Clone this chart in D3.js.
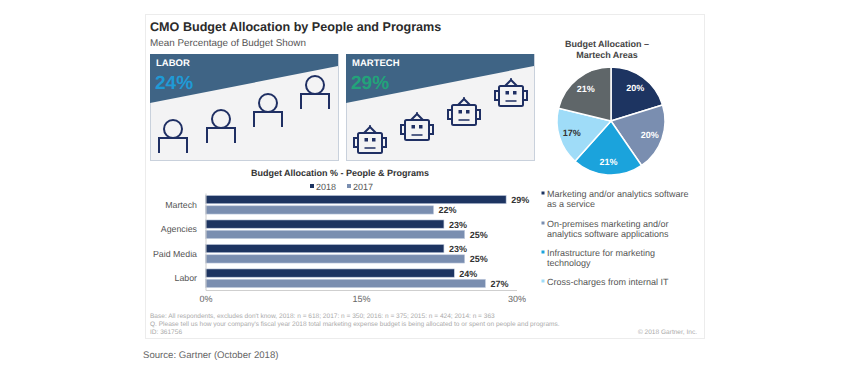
<!DOCTYPE html>
<html>
<head>
<meta charset="utf-8">
<script src="https://cdnjs.cloudflare.com/ajax/libs/d3/7.8.5/d3.min.js"></script>
<style>
html, body { margin: 0; padding: 0; background: #fff; }
svg { display: block; text-rendering: geometricPrecision; }
text { font-family: "Liberation Sans", Arial, sans-serif; }
</style>
</head>
<body>
<div id="chart-area"></div>
<script>
//////////////////////////////////////////////
// Data //////////////////////////////////////
//////////////////////////////////////////////
var categories = ["Martech", "Agencies", "Paid Media", "Labor"];
var years = ["2018", "2017"];
var values2018 = [29, 23, 23, 24];
var values2017 = [22, 25, 25, 27];
var xTicks = [0, 15, 30];

var pieValues = [20, 20, 21, 17, 21];
var pieLegend = [
    ["Marketing and/or analytics software", "as a service"],
    ["On-premises marketing and/or", "analytics software applications"],
    ["Infrastructure for marketing", "technology"],
    ["Cross-charges from internal IT"]
];

var panelNames = ["LABOR", "MARTECH"];
var panelValues = [24, 29];

var footnotes = [
    "Base: All respondents, excludes don't know, 2018: n = 618; 2017: n = 350; 2016: n = 375; 2015: n = 424; 2014: n = 363",
    "Q. Please tell us how your company's fiscal year 2018 total marketing expense budget is being allocated to or spent on people and programs.",
    "ID: 361756"
];

//////////////////////////////////////////////
// Chart Config //////////////////////////////
//////////////////////////////////////////////
var navy = "#1d3461", slate = "#7a8eb0", band = "#3f6485", iconBlue = "#1f2f63";
var pieColors = [navy, slate, "#1ba3dc", "#9fdcf8", "#5f6669"];

var svg = d3.select("#chart-area").append("svg")
    .attr("width", 850)
    .attr("height", 375);

// card
svg.append("rect")
    .attr("x", 145.5).attr("y", 14.5)
    .attr("width", 559).attr("height", 324)
    .attr("fill", "#fff")
    .attr("stroke", "#ececec");

svg.append("text").attr("x", 150).attr("y", 30.5)
    .attr("font-size", 12.6).attr("font-weight", "bold").attr("fill", "#2b2b2b")
    .text("CMO Budget Allocation by People and Programs");

svg.append("text").attr("x", 150).attr("y", 46)
    .attr("font-size", 9.9).attr("fill", "#555")
    .text("Mean Percentage of Budget Shown");

//////////////////////////////////////////////
// Panels ////////////////////////////////////
//////////////////////////////////////////////
var panelX = [150, 346], panelW = 188, panelY = 54, panelH = 106;
var panelColors = ["#1f9ad6", "#22a37a"];

panelNames.forEach(function(name, i) {
    var g = svg.append("g").attr("transform", "translate(" + panelX[i] + "," + panelY + ")");
    g.append("rect")
        .attr("x", 0.5).attr("y", 0.5)
        .attr("width", panelW).attr("height", panelH)
        .attr("fill", "#f3f3f4").attr("stroke", "#c9d1dc");
    g.append("path")
        .attr("d", "M0,0H" + panelW + "V12L0,49Z")
        .attr("fill", band);
    g.append("text").attr("x", 6).attr("y", 12)
        .attr("font-size", 9.5).attr("font-weight", "bold").attr("fill", "#fff")
        .text(name);
    g.append("text").attr("x", 5).attr("y", 35)
        .attr("font-size", 19).attr("font-weight", "bold").attr("fill", panelColors[i])
        .text(panelValues[i] + "%");
});

// people
var people = [[173, 129], [221, 119], [268, 103], [315, 85]];
var person = svg.append("g").attr("fill", "none").attr("stroke", iconBlue).attr("stroke-width", 2);
people.forEach(function(p) {
    var g = person.append("g").attr("transform", "translate(" + p[0] + "," + p[1] + ")");
    g.append("circle").attr("r", 9);
    g.append("path").attr("d", "M-14,24V9H14V24");
});

// robots
var robots = [[370, 133], [417, 120], [464, 105], [511, 86]];
var robot = svg.append("g").attr("fill", "none").attr("stroke", iconBlue).attr("stroke-width", 2);
robots.forEach(function(p) {
    var g = robot.append("g").attr("transform", "translate(" + p[0] + "," + p[1] + ")");
    g.append("rect").attr("x", -12).attr("y", 0).attr("width", 24).attr("height", 20).attr("rx", 1.5);
    g.append("path").attr("d", "M-12,5H-16V14H-12M12,5H16V14H12");
    g.append("path").attr("d", "M-6,0L0,-6L6,0");
    g.append("path").attr("d", "M0,-5V-8").attr("stroke-width", 1.5);
    g.append("rect").attr("x", -5.5).attr("y", 5).attr("width", 3.5).attr("height", 3.5)
        .attr("fill", iconBlue).attr("stroke", "none");
    g.append("rect").attr("x", 2).attr("y", 5).attr("width", 3.5).attr("height", 3.5)
        .attr("fill", iconBlue).attr("stroke", "none");
    g.append("path").attr("d", "M-5.5,15H5.5").attr("stroke-width", 1.5);
});

//////////////////////////////////////////////
// Bars //////////////////////////////////////
//////////////////////////////////////////////
var xScale = d3.scaleLinear().domain([0, 30]).range([205.5, 516.5]);
var yScale = d3.scaleBand().domain(categories).range([193, 290]).paddingInner(0.24).paddingOuter(0.1);
var yInner = d3.scaleBand().domain(years).range([0, yScale.bandwidth()]).paddingInner(0.2);

svg.append("text").attr("x", 340).attr("y", 176)
    .attr("text-anchor", "middle")
    .attr("font-size", 9).attr("font-weight", "bold").attr("fill", "#333")
    .text("Budget Allocation % - People & Programs");

// legend
var legendX = [310, 347];
years.forEach(function(y, i) {
    svg.append("rect").attr("x", legendX[i]).attr("y", 184).attr("width", 4).attr("height", 4)
        .attr("fill", i === 0 ? navy : slate);
    svg.append("text").attr("x", legendX[i] + 6).attr("y", 189.5)
        .attr("font-size", 9).attr("fill", "#555")
        .text(y);
});

var rows = svg.selectAll(".row")
    .data(categories)
    .enter().append("g")
    .attr("class", "row")
    .attr("transform", function(d) { return "translate(0," + yScale(d) + ")"; });

[values2018, values2017].forEach(function(vals, s) {
    rows.append("rect")
        .attr("x", xScale(0))
        .attr("y", yInner(years[s]))
        .attr("width", function(d, i) { return xScale(vals[i]) - xScale(0); })
        .attr("height", yInner.bandwidth())
        .attr("fill", s === 0 ? navy : slate)
        .attr("stroke", "#c3cde0").attr("stroke-width", 0.6);
    rows.append("text")
        .attr("x", function(d, i) { return xScale(vals[i]) + 5; })
        .attr("y", yInner(years[s]) + yInner.bandwidth() / 2 + 3.5)
        .attr("font-size", 9).attr("font-weight", "bold").attr("fill", "#333")
        .text(function(d, i) { return vals[i] + "%"; });
});

// axes
var yAxis = d3.axisLeft(yScale).tickSize(0).tickPadding(8.5);
var yAxisEl = svg.append("g").attr("transform", "translate(205.5,0)").call(yAxis);
yAxisEl.select(".domain").attr("stroke", "#cfcfcf");
yAxisEl.selectAll("text")
    .attr("font-size", 8.8).attr("fill", "#555")
    .style("font-family", '"Liberation Sans", Arial, sans-serif');

var xAxis = d3.axisBottom(xScale).tickValues(xTicks).tickSize(0).tickPadding(6)
    .tickFormat(function(d) { return d + "%"; });
var xAxisEl = svg.append("g").attr("transform", "translate(0,290)").call(xAxis);
xAxisEl.select(".domain").attr("stroke", "#cfcfcf");
xAxisEl.selectAll("text")
    .attr("font-size", 9).attr("fill", "#666")
    .style("font-family", '"Liberation Sans", Arial, sans-serif');

//////////////////////////////////////////////
// Pie ///////////////////////////////////////
//////////////////////////////////////////////
["Budget Allocation \u2013", "Martech Areas"].forEach(function(t, i) {
    svg.append("text").attr("x", 607).attr("y", 47 + i * 10.5)
        .attr("text-anchor", "middle")
        .attr("font-size", 9).attr("font-weight", "bold").attr("fill", "#444")
        .text(t);
});

var pie = d3.pie().sort(null);
var arc = d3.arc().innerRadius(0).outerRadius(54);
var labelArc = d3.arc().innerRadius(41).outerRadius(41);

var pieG = svg.append("g").attr("transform", "translate(611,121)");
var slices = pieG.selectAll(".slice").data(pie(pieValues)).enter().append("g").attr("class", "slice");
slices.append("path")
    .attr("d", arc)
    .attr("fill", function(d, i) { return pieColors[i]; })
    .attr("stroke", "#fff").attr("stroke-width", 1.5);
slices.append("text")
    .attr("transform", function(d) { return "translate(" + labelArc.centroid(d) + ")"; })
    .attr("text-anchor", "middle").attr("dy", "0.35em")
    .attr("font-size", 9).attr("font-weight", "bold")
    .attr("fill", function(d, i) { return i === 3 ? "#333" : "#fff"; })
    .text(function(d) { return d.value + "%"; });

// pie legend
var legendY = [193, 223, 252, 281];
pieLegend.forEach(function(lines, i) {
    svg.append("rect").attr("x", 541.5).attr("y", legendY[i] - 1.5).attr("width", 3).attr("height", 3)
        .attr("fill", pieColors[i]);
    lines.forEach(function(t, j) {
        svg.append("text").attr("x", 547).attr("y", legendY[i] + 3.5 + j * 10.5)
            .attr("font-size", 9).attr("fill", "#555")
            .text(t);
    });
});

//////////////////////////////////////////////
// Notes /////////////////////////////////////
//////////////////////////////////////////////
footnotes.forEach(function(t, i) {
    svg.append("text").attr("x", 150).attr("y", 318 + i * 8)
        .attr("font-size", 6.55).attr("fill", "#aaa")
        .text(t);
});

svg.append("text").attr("x", 697).attr("y", 334)
    .attr("text-anchor", "end")
    .attr("font-size", 6.55).attr("fill", "#aaa")
    .text("\u00a9 2018 Gartner, Inc.");

svg.append("text").attr("x", 143).attr("y", 358)
    .attr("font-size", 9.6).attr("fill", "#666")
    .text("Source: Gartner (October 2018)");
</script>
</body>
</html>
